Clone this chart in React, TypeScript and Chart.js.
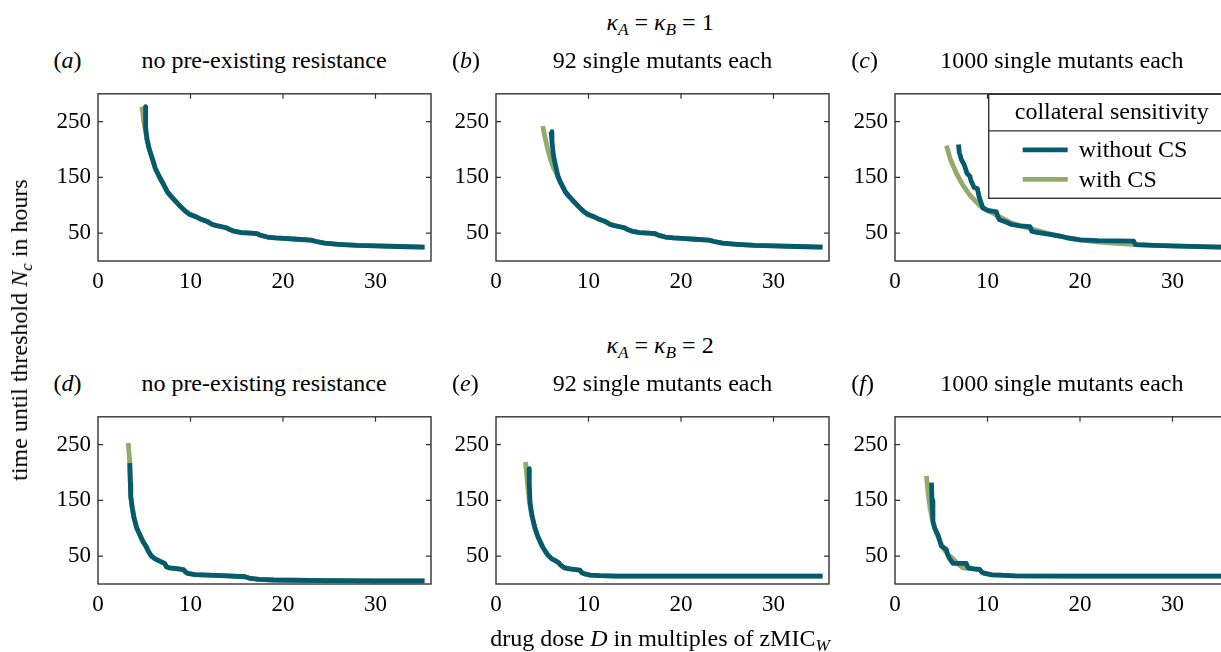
import React, { useEffect, useRef } from "react";
import { Chart, registerables } from "chart.js";

Chart.register(...registerables);

// ---------------- data ----------------
const xTicks = [0, 10, 20, 30];
const yTicks = [50, 150, 250];
const X_MAX = 36;
const Y_MAX = 300;

const seriesNames = ["without CS", "with CS"];
const legendTitle = "collateral sensitivity";

// (a) kappa = 1, no pre-existing resistance
const doseA_noCS = [5.15, 5.15, 5.3, 5.55, 5.85, 6.2, 6.6, 7.0, 7.5, 7.9, 8.4, 8.9, 9.4, 9.9, 10.5, 11.0, 11.8, 12.3, 12.7, 13.5, 13.9, 14.3, 14.8, 15.5, 16.5, 17.2, 17.6, 18.3, 19.2, 20.1, 21.5, 23.0, 23.6, 24.5, 26.0, 28.0, 30.0, 32.5, 35.3];
const timeA_noCS = [277, 240, 218, 200, 185, 166, 152, 140, 124, 116, 107, 98, 90, 84, 80, 76, 71, 66, 64, 61, 59.5, 56, 53, 51, 50, 49, 46, 43, 41.5, 40.5, 39, 37.5, 35, 32, 30, 28, 27, 26, 25];
const doseA_CS = [4.75, 4.95, 5.15, 5.3, 5.55, 5.85, 6.2, 6.6, 7.0, 7.5, 7.9, 8.4, 8.9, 9.4, 9.9, 10.5, 11.0, 11.8, 12.3, 12.7, 13.5, 13.9, 14.3, 14.8, 15.5, 16.5, 17.2, 17.6, 18.3, 19.2, 20.1, 21.5, 23.0, 23.6, 24.5, 26.0, 28.0, 30.0, 32.5, 35.3];
const timeA_CS = [277, 250, 232, 218, 200, 185, 166, 152, 140, 124, 116, 107, 98, 90, 84, 80, 76, 71, 66, 64, 61, 59.5, 56, 53, 51, 50, 49, 46, 43, 41.5, 40.5, 39, 37.5, 35, 32, 30, 28, 27, 26, 25];

// (b) kappa = 1, 92 single mutants each
const doseB_noCS = [5.95, 6.05, 6.2, 6.45, 6.7, 7.0, 7.5, 7.9, 8.4, 8.9, 9.4, 9.9, 10.5, 11.0, 11.8, 12.3, 12.7, 13.5, 13.9, 14.3, 14.8, 15.5, 16.5, 17.2, 17.6, 18.3, 19.2, 20.1, 21.5, 23.0, 23.6, 24.5, 26.0, 28.0, 30.0, 32.5, 35.3];
const timeB_noCS = [232, 215, 190, 170, 152, 140, 124, 116, 107, 98, 90, 84, 80, 76, 71, 66, 64, 61, 59.5, 56, 53, 51, 50, 49, 46, 43, 41.5, 40.5, 39, 37.5, 35, 32, 30, 28, 27, 26, 25];
const doseB_CS = [5.05, 5.3, 5.6, 5.9, 6.2, 6.5, 7.0, 7.5, 7.9, 8.4, 8.9, 9.4, 9.9, 10.5, 11.0, 11.8, 12.3, 12.7, 13.5, 13.9, 14.3, 14.8, 15.5, 16.5, 17.2, 17.6, 18.3, 19.2, 20.1, 21.5, 23.0, 23.6, 24.5, 26.0, 28.0, 30.0, 32.5, 35.3];
const timeB_CS = [242, 222, 200, 182, 168, 158, 140, 124, 116, 107, 98, 90, 84, 80, 76, 71, 66, 64, 61, 59.5, 56, 53, 51, 50, 49, 46, 43, 41.5, 40.5, 39, 37.5, 35, 32, 30, 28, 27, 26, 25];

// (c) kappa = 1, 1000 single mutants each
const doseC_noCS = [6.86, 6.95, 7.18, 7.5, 7.79, 8.1, 8.2, 8.55, 8.9, 9.1, 9.2, 9.5, 10.0, 10.97, 11.1, 11.3, 12.0, 12.6, 13.5, 14.6, 14.8, 15.5, 17.1, 18.0, 18.6, 20.0, 22.0, 25.8, 26.0, 28.0, 30.8, 35.3];
const timeC_noCS = [209, 195, 182, 172, 157, 152, 145, 132, 130, 115, 110, 95, 91, 88, 80, 74, 70, 65.5, 63, 61.7, 53, 51, 47, 44, 41.7, 37.8, 36.5, 35.5, 29.5, 28, 26.7, 25];
const doseC_CS = [5.56, 6.0, 6.65, 7.3, 8.1, 9.2, 10.3, 11.5, 12.6, 14.0, 15.5, 17.1, 18.6, 20.0, 22.0, 23.6, 26.0, 28.0, 30.8, 35.3];
const timeC_CS = [207, 182, 157, 137, 118, 99, 88, 78, 68, 61, 54, 47, 42, 38, 34, 32, 29.5, 28, 26.7, 25];

// (d) kappa = 2, no pre-existing resistance
const doseD_noCS = [3.43, 3.5, 3.54, 3.7, 3.9, 4.2, 4.63, 4.9, 5.18, 5.4, 5.72, 6.1, 6.44, 6.8, 7.2, 7.4, 7.7, 8.5, 9.2, 9.5, 9.7, 10.5, 11.9, 14.0, 15.9, 16.5, 17.4, 19.0, 21.0, 25.0, 30.0, 35.3];
const timeD_noCS = [217, 180, 157, 137, 118, 100, 84.5, 75, 68, 60, 51, 46, 43, 40, 37, 31, 29, 27.5, 26, 21, 19, 17, 16, 14.5, 13, 10, 8.3, 7.2, 6.7, 6, 5.7, 5.5];
const doseD_CS = [3.27, 3.4, 3.43, 3.5, 3.54, 3.7, 3.9, 4.2, 4.63, 4.9, 5.18, 5.4, 5.72, 6.1, 6.44, 6.8, 7.2, 7.4, 7.7, 8.5, 9.2, 9.5, 9.7, 10.5, 11.9, 14.0, 15.9, 16.5, 17.4, 19.0, 21.0, 25.0, 30.0, 35.3];
const timeD_CS = [253, 225, 217, 180, 157, 137, 118, 100, 84.5, 75, 68, 60, 51, 46, 43, 40, 37, 31, 29, 27.5, 26, 21, 19, 17, 16, 14.5, 13, 10, 8.3, 7.2, 6.7, 6, 5.7, 5.5];

// (e) kappa = 2, 92 single mutants each
const doseE_noCS = [3.57, 3.6, 3.68, 3.9, 4.2, 4.5, 4.77, 5.0, 5.3, 5.6, 6.0, 6.4, 6.72, 7.0, 7.4, 8.0, 9.05, 9.3, 9.6, 10.2, 11.2, 13.0, 20.0, 35.3];
const timeE_noCS = [207, 180, 146, 122, 101, 86, 76, 68, 59.5, 52, 45.5, 42, 39, 34, 29, 27, 25, 20, 18, 16, 15, 14.3, 14, 14];
const doseE_CS = [3.2, 3.4, 3.6, 3.8, 4.2, 4.5, 4.77, 5.0, 5.3, 5.6, 6.0, 6.4, 6.72, 7.0, 7.4, 8.0, 9.05, 9.3, 9.6, 10.2, 11.2, 13.0, 20.0, 35.3];
const timeE_CS = [219, 180, 150, 128, 101, 86, 76, 68, 59.5, 52, 45.5, 42, 39, 34, 29, 27, 25, 20, 18, 16, 15, 14.3, 14, 14];

// (f) kappa = 2, 1000 single mutants each
const doseF_noCS = [3.94, 4.0, 4.1, 4.3, 4.67, 4.8, 5.0, 5.55, 5.7, 5.9, 6.27, 7.0, 7.7, 7.9, 8.5, 9.15, 9.4, 9.7, 10.5, 11.3, 13.0, 20.0, 35.3];
const timeF_noCS = [182, 150, 112, 100, 87, 80, 68, 62, 52, 45.5, 37, 37, 37, 29, 27, 26, 21, 19, 16.5, 16, 14.5, 14, 14];
const doseF_CS = [3.4, 3.6, 3.8, 4.1, 4.4, 4.8, 5.3, 5.8, 6.27, 6.8, 7.35, 8.5, 9.15, 9.4, 9.7, 10.5, 11.3, 13.0, 20.0, 35.3];
const timeF_CS = [194, 160, 135, 112, 95, 79, 62, 52, 45.5, 36, 29, 27, 26, 21, 19, 16.5, 16, 14.5, 14, 14];

// ---------------- styling ----------------
const TEAL = "#065a6d";
const GREEN = "#93aa6b";
const AXIS = "#333333";
const FONT = "'Liberation Serif', 'DejaVu Serif', serif";
const FS = 24;
const TICK_FS = 23;
const LW = 4.8;

const PX_PER_X = 9.25;
const PLOT_W = X_MAX * PX_PER_X;
const PLOT_H = 180;
const PAD_L = 70;
const PAD_T = 8;
const PAD_R = 8;
const PAD_B = 44;
const CW = Math.round(PLOT_W + PAD_L + PAD_R);
const CH = PLOT_H + PAD_T + PAD_B;

const colLeft = [97.5, 496, 895.3];
const rowTop = [81, 404];

type Pt = { x: number; y: number };
const zip = (xs: number[], ys: number[]): Pt[] => xs.map((x, i) => ({ x, y: ys[i] }));

const boxPlugin = {
  id: "boxTicks",
  afterDatasetsDraw(chart: any) {
    const { ctx, chartArea: a, scales } = chart;
    ctx.save();
    ctx.strokeStyle = AXIS;
    ctx.lineWidth = 1.4;
    ctx.strokeRect(a.left, a.top, a.right - a.left, a.bottom - a.top);
    ctx.lineWidth = 1.2;
    const L = 5;
    ctx.beginPath();
    for (const v of xTicks) {
      if (v === 0) continue;
      const px = scales.x.getPixelForValue(v);
      ctx.moveTo(px, a.top);
      ctx.lineTo(px, a.top + L);
    }
    for (const v of yTicks) {
      const py = scales.y.getPixelForValue(v);
      ctx.moveTo(a.left, py);
      ctx.lineTo(a.left + L, py);
      ctx.moveTo(a.right, py);
      ctx.lineTo(a.right - L, py);
    }
    ctx.stroke();
    ctx.restore();
  },
};

const legendPlugin = {
  id: "csLegend",
  afterDraw(chart: any) {
    if (!chart.options.plugins.csLegend?.show) return;
    const { ctx, chartArea: a } = chart;
    const left = a.left + 93.7;
    const top = a.top + 0.5;
    const right = a.right;
    const bottom = top + 104;
    ctx.save();
    ctx.fillStyle = "#ffffff";
    ctx.fillRect(left, top, right - left, bottom - top);
    ctx.strokeStyle = AXIS;
    ctx.lineWidth = 1.4;
    ctx.strokeRect(left, top, right - left, bottom - top);
    ctx.beginPath();
    ctx.moveTo(left, top + 36.6);
    ctx.lineTo(right, top + 36.6);
    ctx.stroke();
    ctx.fillStyle = "#000";
    ctx.font = `${FS}px ${FONT}`;
    ctx.textBaseline = "middle";
    ctx.textAlign = "center";
    ctx.fillText(legendTitle, left + 123, top + 18);
    ctx.textAlign = "left";
    const ds = chart.data.datasets;
    const rows = [top + 55.6, top + 85];
    ds.forEach((d: any, i: number) => {
      ctx.strokeStyle = d.borderColor;
      ctx.lineWidth = LW;
      ctx.beginPath();
      ctx.moveTo(left + 34, rows[i]);
      ctx.lineTo(left + 79, rows[i]);
      ctx.stroke();
      ctx.fillText(d.label, left + 90, rows[i] + 1);
    });
    ctx.restore();
  },
};

type PanelProps = {
  left: number;
  top: number;
  noCS: Pt[];
  cs: Pt[];
  legend?: boolean;
};

function Panel({ left, top, noCS, cs, legend }: PanelProps) {
  const ref = useRef<HTMLCanvasElement>(null);
  useEffect(() => {
    if (!ref.current) return;
    const chart = new Chart(ref.current, {
      type: "line",
      data: {
        datasets: [
          { label: seriesNames[0], data: noCS, borderColor: TEAL, backgroundColor: TEAL, borderWidth: LW, pointRadius: 0, tension: 0, borderJoinStyle: "round" },
          { label: seriesNames[1], data: cs, borderColor: GREEN, backgroundColor: GREEN, borderWidth: LW, pointRadius: 0, tension: 0, borderJoinStyle: "round" },
        ],
      },
      options: {
        responsive: false,
        animation: false,
        layout: { padding: { left: 0, top: PAD_T, right: PAD_R, bottom: 0 } },
        scales: {
          x: {
            type: "linear",
            min: 0,
            max: X_MAX,
            grid: { display: false, drawTicks: false },
            border: { display: false },
            afterBuildTicks: (s: any) => { s.ticks = xTicks.map((v) => ({ value: v })); },
            afterFit: (s: any) => { s.height = PAD_B; },
            ticks: { font: { family: FONT, size: TICK_FS }, color: "#000", padding: 7, maxRotation: 0, includeBounds: false, callback: (v: any) => String(v) },
          },
          y: {
            type: "linear",
            min: 0,
            max: Y_MAX,
            grid: { display: false, drawTicks: false },
            border: { display: false },
            afterBuildTicks: (s: any) => { s.ticks = yTicks.map((v) => ({ value: v })); },
            afterFit: (s: any) => { s.width = PAD_L; },
            ticks: { font: { family: FONT, size: TICK_FS }, color: "#000", padding: 7, callback: (v: any) => String(v) },
          },
        },
        plugins: {
          legend: { display: false },
          tooltip: { enabled: false },
          title: { display: false },
          csLegend: { show: !!legend },
        } as any,
      },
      plugins: [boxPlugin, legendPlugin],
    } as any);
    return () => chart.destroy();
  }, []);
  return (
    <canvas
      ref={ref}
      width={CW}
      height={CH}
      style={{ position: "absolute", left: left - PAD_L, top: top - PAD_T, width: CW, height: CH }}
    />
  );
}

const textBase: React.CSSProperties = {
  position: "absolute",
  fontFamily: FONT,
  fontSize: FS,
  lineHeight: 1,
  whiteSpace: "nowrap",
  color: "#000",
};

function Center({ x, y, children, rotate }: { x: number; y: number; children: React.ReactNode; rotate?: boolean }) {
  return (
    <div style={{ ...textBase, left: x, top: y, transform: `translate(-50%, -50%)${rotate ? " rotate(-90deg)" : ""}` }}>
      {children}
    </div>
  );
}

const subStyle: React.CSSProperties = { fontSize: "0.72em", verticalAlign: "-0.3em", lineHeight: 0 };

function Kappa({ n }: { n: number }) {
  return (
    <span>
      <i>κ</i><span style={subStyle}><i>A</i></span> = <i>κ</i><span style={subStyle}><i>B</i></span> = {n}
    </span>
  );
}

const panelTitles = ["no pre-existing resistance", "92 single mutants each", "1000 single mutants each"];
const panelLetters = ["a", "b", "c", "d", "e", "f"];

export default function App() {
  const panels = [
    { noCS: zip(doseA_noCS, timeA_noCS), cs: zip(doseA_CS, timeA_CS) },
    { noCS: zip(doseB_noCS, timeB_noCS), cs: zip(doseB_CS, timeB_CS) },
    { noCS: zip(doseC_noCS, timeC_noCS), cs: zip(doseC_CS, timeC_CS) },
    { noCS: zip(doseD_noCS, timeD_noCS), cs: zip(doseD_CS, timeD_CS) },
    { noCS: zip(doseE_noCS, timeE_noCS), cs: zip(doseE_CS, timeE_CS) },
    { noCS: zip(doseF_noCS, timeF_noCS), cs: zip(doseF_CS, timeF_CS) },
  ];
  return (
    <div style={{ position: "fixed", left: 0, top: 0, width: 1221, height: 652, overflow: "hidden", background: "#fff" }}>
      {panels.map((p, i) => {
        const r = Math.floor(i / 3);
        const c = i % 3;
        return (
          <Panel key={i} left={colLeft[c]} top={rowTop[r]} noCS={p.noCS} cs={p.cs} legend={i === 2} />
        );
      })}
      {panels.map((_, i) => {
        const r = Math.floor(i / 3);
        const c = i % 3;
        const cx = colLeft[c] + PLOT_W / 2;
        const cy = rowTop[r] - 21;
        return (
          <React.Fragment key={"t" + i}>
            <div style={{ ...textBase, left: colLeft[c] - 44, top: cy, transform: "translateY(-50%)" }}>
              (<i>{panelLetters[i]}</i>)
            </div>
            <Center x={cx} y={cy}>{panelTitles[c]}</Center>
          </React.Fragment>
        );
      })}
      <Center x={660} y={22}><Kappa n={1} /></Center>
      <Center x={660} y={345}><Kappa n={2} /></Center>
      <Center x={19} y={330} rotate>
        time until threshold <i>N</i><span style={subStyle}><i>c</i></span> in hours
      </Center>
      <Center x={660} y={638}>
        drug dose <i>D</i> in multiples of zMIC<span style={subStyle}><i>W</i></span>
      </Center>
    </div>
  );
}
